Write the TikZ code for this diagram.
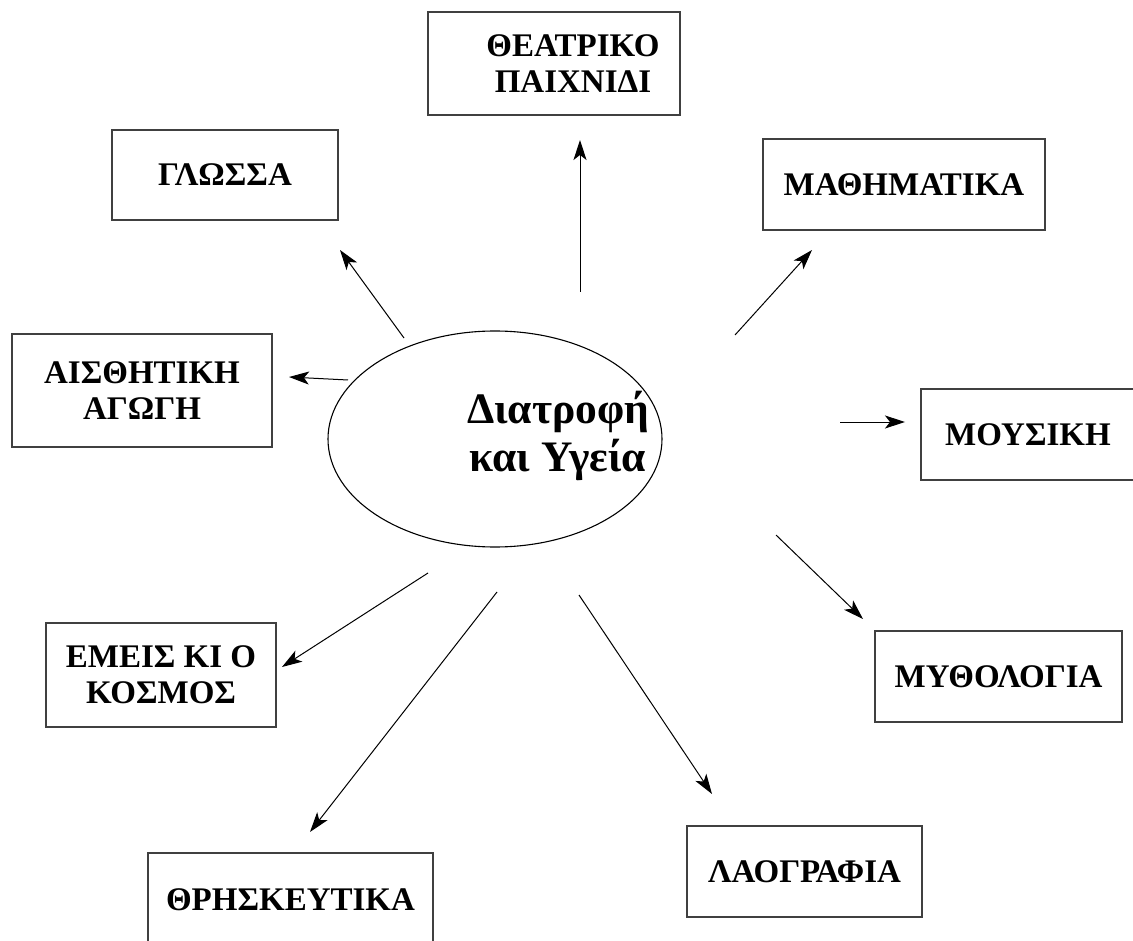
\documentclass[tikz,border=0pt]{standalone}
\usepackage{fontspec}
\setmainfont{Liberation Serif}
\usetikzlibrary{arrows.meta}
\usetikzlibrary{shapes.geometric}

\begin{document}
\begin{tikzpicture}[
		x=1pt, y=-1pt,
		topic/.style={draw=black!75, line width=1.3pt, align=center, inner sep=0pt,
			font=\bfseries\fontsize{33}{36}\selectfont},
		hub/.style={ellipse, draw, line width=1.1pt, inner sep=0pt},
		>={Stealth[length=20pt,width=13pt,inset=5pt]}]
	\useasboundingbox (0,0) rectangle (1133,941);
	\clip (0,0) rectangle (1133,941);
	%% define centre
	\node (hub) at (495,439) [hub, minimum width=334pt, minimum height=216pt] {};
	\node (hublbl) at (558,436) [align=center, font=\bfseries\fontsize{43.5}{48}\selectfont] {Διατροφή\\και Υγεία};
	%% define topics
	\node (theat) at (554,63.5) [topic, minimum width=252pt, minimum height=103pt] {\hspace*{38pt}ΘΕΑΤΡΙΚΟ\\\hspace*{38pt}ΠΑΙΧΝΙΔΙ};
	\node (glossa) at (225,175) [topic, minimum width=226pt, minimum height=90pt] {ΓΛΩΣΣΑ};
	\node (math) at (904,184.5) [topic, minimum width=282pt, minimum height=91pt] {ΜΑΘΗΜΑΤΙΚΑ};
	\node (aisth) at (142,390.5) [topic, minimum width=260pt, minimum height=113pt] {ΑΙΣΘΗΤΙΚΗ\\ΑΓΩΓΗ};
	\node (mous) at (1028,434.5) [topic, minimum width=214pt, minimum height=91pt] {ΜΟΥΣΙΚΗ};
	\node (emeis) at (161,675) [topic, minimum width=230pt, minimum height=104pt] {ΕΜΕΙΣ ΚΙ Ο\\ΚΟΣΜΟΣ};
	\node (myth) at (998.5,676.5) [topic, minimum width=247pt, minimum height=91pt] {ΜΥΘΟΛΟΓΙΑ};
	\node (laogr) at (804.5,871.5) [topic, minimum width=235pt, minimum height=91pt] {ΛΑΟΓΡΑΦΙΑ};
	\node (thr) at (290.5,900) [topic, minimum width=285pt, minimum height=94pt] {ΘΡΗΣΚΕΥΤΙΚΑ};
	%% define arrows
	\foreach \n/\sx/\sy/\ex/\ey in {theat/580/292/580/140, glossa/404/338/340/250,
			math/735/335/812/250, aisth/348/380/289/377, mous/840/422/905/422,
			myth/776/535/863/619, laogr/579/595/712/794, thr/497/592/310/832,
			emeis/428/573/282/667} {
		\coordinate (s-\n) at (\sx,\sy);
		\coordinate (e-\n) at (\ex,\ey);
		\draw[->, line width=1pt] (s-\n) -- (e-\n);
	}
\end{tikzpicture}
\end{document}
